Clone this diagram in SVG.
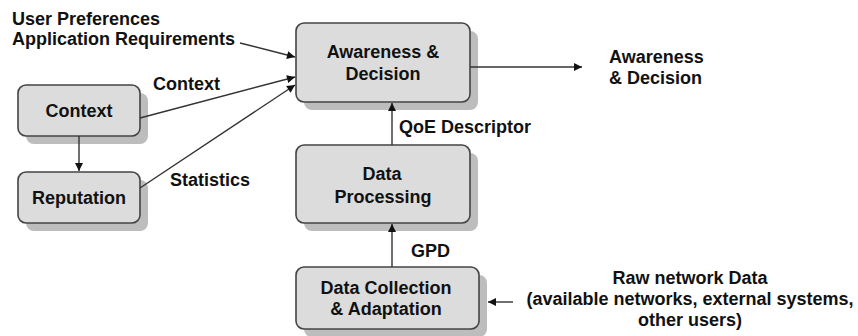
<svg xmlns="http://www.w3.org/2000/svg" width="858" height="336" viewBox="0 0 858 336">
  <defs>
    <marker id="arrow" viewBox="0 0 10 10" refX="10" refY="5" markerWidth="9" markerHeight="8" markerUnits="userSpaceOnUse" orient="auto">
      <path d="M0,0 L10,5 L0,10 z" fill="#111"/>
    </marker>
    <style>
      text { font-family: "Liberation Sans", Arial, sans-serif; font-size: 18px; font-weight: bold; fill: #111; }
      .c { text-anchor: middle; }
      .box { fill: #dcdcdc; stroke: #444; stroke-width: 1.6; }
      .shadow { fill: #bdbdbd; }
      .link { stroke: #333; stroke-width: 1.4; fill: none; marker-end: url(#arrow); }
    </style>
  </defs>
  <rect width="858" height="336" fill="#fff"/>

  <g id="awareness">
    <rect class="shadow" x="304" y="31" width="174" height="79" rx="8"/>
    <rect class="box" x="296" y="23" width="174" height="79" rx="8"/>
    <text class="c" x="383" y="58">Awareness &amp;</text>
    <text class="c" x="383" y="80">Decision</text>
  </g>

  <g id="context">
    <rect class="shadow" x="26" y="93" width="122" height="51" rx="8"/>
    <rect class="box" x="18" y="85" width="122" height="51" rx="8"/>
    <text class="c" x="79" y="117">Context</text>
  </g>

  <g id="reputation">
    <rect class="shadow" x="26" y="180" width="122" height="51" rx="8"/>
    <rect class="box" x="18" y="172" width="122" height="51" rx="8"/>
    <text class="c" x="79" y="204">Reputation</text>
  </g>

  <g id="processing">
    <rect class="shadow" x="304" y="153" width="174" height="78" rx="8"/>
    <rect class="box" x="296" y="145" width="174" height="78" rx="8"/>
    <text class="c" x="382" y="180">Data</text>
    <text class="c" x="383" y="203">Processing</text>
  </g>

  <g id="collection">
    <rect class="shadow" x="304" y="275" width="183" height="62" rx="8"/>
    <rect class="box" x="296" y="267" width="183" height="62" rx="8"/>
    <text class="c" x="386" y="294">Data Collection</text>
    <text class="c" x="386" y="315">&amp; Adaptation</text>
  </g>

  <!-- connectors, drawn above the boxes so arrowheads stay visible -->
  <g id="connectors">
    <line class="link" x1="240" y1="43" x2="295" y2="57"/>
    <line class="link" x1="140" y1="118" x2="295" y2="77"/>
    <line class="link" x1="140" y1="188" x2="295" y2="85"/>
    <line class="link" x1="79" y1="136" x2="79" y2="171"/>
    <line class="link" x1="470" y1="67" x2="582" y2="67"/>
    <line class="link" x1="392" y1="145" x2="392" y2="103"/>
    <line class="link" x1="392" y1="267" x2="392" y2="224"/>
    <line class="link" x1="513" y1="302" x2="488" y2="302"/>
  </g>

  <!-- free labels -->
  <g id="labels">
    <text x="12" y="25">User Preferences</text>
    <text x="12" y="45">Application Requirements</text>
    <text x="153" y="90">Context</text>
    <text x="170" y="186">Statistics</text>
    <text x="399" y="133">QoE Descriptor</text>
    <text x="411" y="257">GPD</text>
    <text x="609" y="63">Awareness</text>
    <text x="609" y="84">&amp; Decision</text>
    <text class="c" x="690" y="284">Raw network Data</text>
    <text class="c" x="690" y="305">(available networks, external systems,</text>
    <text class="c" x="690" y="326">other users)</text>
  </g>
</svg>
